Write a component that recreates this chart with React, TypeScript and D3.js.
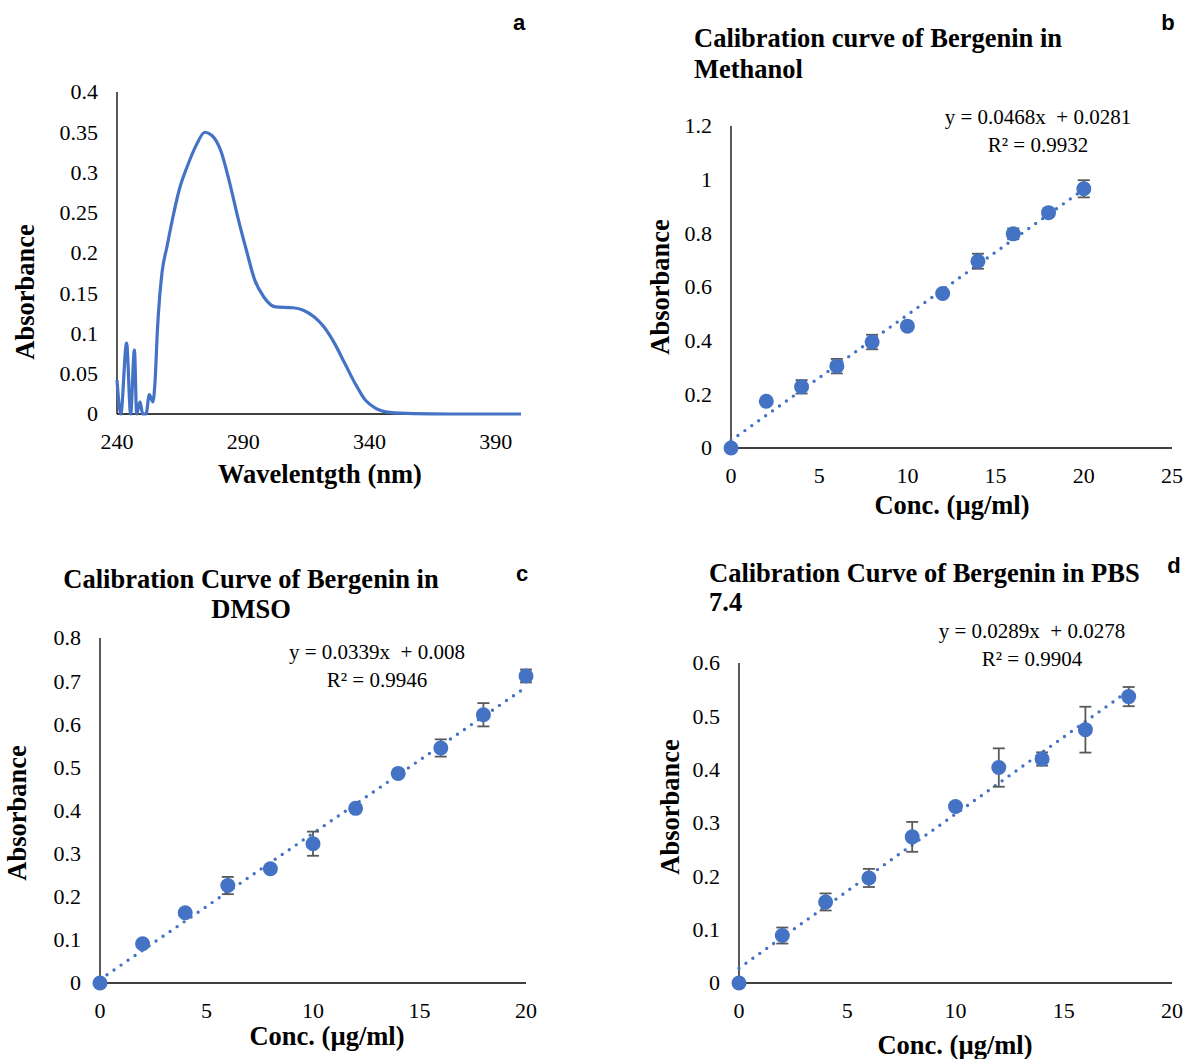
import React from 'react';
import * as d3 from 'd3';

// ---- panel a: UV spectrum ----
const waveNm = [240, 241.5, 243.8, 245.4, 246.9, 247.8, 249.1, 250.2, 251.5, 252.8, 254.2, 255.1, 256.0, 256.4, 257.8, 259.8, 261.9, 264.6, 268, 271.4, 274.8, 277.6, 281, 284.4, 287.8, 291.2, 294.6, 298, 302.8, 309.7, 313.8, 317.9, 322, 326.1, 330.2, 334.3, 338.4, 342.5, 348, 357.5, 371, 385, 400];
const waveAbs = [0.042, 0, 0.088, 0, 0.0795, 0, 0.015, 0, 0, 0.024, 0.015, 0.042, 0.104, 0.125, 0.175, 0.208, 0.241, 0.278, 0.309, 0.334, 0.35, 0.346, 0.328, 0.29, 0.245, 0.204, 0.166, 0.146, 0.133, 0.132, 0.129, 0.121, 0.108, 0.088, 0.063, 0.038, 0.017, 0.007, 0.002, 0.0005, 0, 0, 0];
const waveTicks = [240, 290, 340, 390];
const specAbsTicks = [0, 0.05, 0.1, 0.15, 0.2, 0.25, 0.3, 0.35, 0.4];

// ---- panel b: methanol ----
const concB = [0, 2, 4, 6, 8, 10, 12, 14, 16, 18, 20];
const absB = [0, 0.174, 0.228, 0.305, 0.395, 0.454, 0.576, 0.696, 0.798, 0.877, 0.966];
const errB = [0, 0.01, 0.025, 0.027, 0.027, 0.01, 0.01, 0.028, 0.02, 0.012, 0.032];
const xTicksB = [0, 5, 10, 15, 20, 25];
const yTicksB = [0, 0.2, 0.4, 0.6, 0.8, 1, 1.2];

// ---- panel c: DMSO ----
const concC = [0, 2, 4, 6, 8, 10, 12, 14, 16, 18, 20];
const absC = [0, 0.091, 0.163, 0.226, 0.265, 0.323, 0.405, 0.486, 0.545, 0.622, 0.712];
const errC = [0, 0.005, 0.005, 0.02, 0.005, 0.028, 0.006, 0.008, 0.02, 0.027, 0.015];
const xTicksC = [0, 5, 10, 15, 20];
const yTicksC = [0, 0.1, 0.2, 0.3, 0.4, 0.5, 0.6, 0.7, 0.8];

// ---- panel d: PBS 7.4 ----
const concD = [0, 2, 4, 6, 8, 10, 12, 14, 16, 18];
const absD = [0, 0.089, 0.152, 0.197, 0.274, 0.331, 0.404, 0.42, 0.475, 0.537];
const errD = [0, 0.015, 0.016, 0.017, 0.028, 0.006, 0.036, 0.0125, 0.043, 0.018];
const xTicksD = [0, 5, 10, 15, 20];
const yTicksD = [0, 0.1, 0.2, 0.3, 0.4, 0.5, 0.6];

const BLUE = '#4472C4';
const SERIF = '"Liberation Serif", "Times New Roman", serif';
const SANS = '"Liberation Sans", Arial, sans-serif';
const TICK_SIZE = 22;
const TITLE_SIZE = 26.5;

type Frame = { left: number; right: number; top: number; bottom: number };

function Axes({ frame, x, y, xTicks, yTicks, xTitle, xTitleX, xTitleY, yTitleX, yTitleY }: any) {
  return (
    <g fontFamily={SERIF}>
      <line x1={frame.left} x2={frame.left} y1={frame.top} y2={frame.bottom} stroke="#000" strokeWidth={1.3} />
      <line x1={frame.left} x2={frame.right} y1={frame.bottom} y2={frame.bottom} stroke="#000" strokeWidth={1.3} />
      {yTicks.map((t: number) => (
        <text key={'y' + t} x={frame.left - 19} y={y(t)} dy="0.34em" textAnchor="end" fontSize={TICK_SIZE}>{String(t)}</text>
      ))}
      {xTicks.map((t: number) => (
        <text key={'x' + t} x={x(t)} y={frame.bottom + 35} textAnchor="middle" fontSize={TICK_SIZE}>{String(t)}</text>
      ))}
      <text x={xTitleX} y={xTitleY} textAnchor="middle" fontSize={TITLE_SIZE} fontWeight="bold">{xTitle}</text>
      <text transform={`translate(${yTitleX},${yTitleY}) rotate(-90)`} textAnchor="middle" dy="0.35em" fontSize={TITLE_SIZE} fontWeight="bold">Absorbance</text>
    </g>
  );
}

function Calibration({ frame, conc, abs, err, xTicks, yTicks, slope, intercept, eq, r2, eqX, eqY, xTitleX, xTitleY, yTitleX, yTitleY }: any) {
  const x = d3.scaleLinear().domain([xTicks[0], xTicks[xTicks.length - 1]]).range([frame.left, frame.right]);
  const y = d3.scaleLinear().domain([yTicks[0], yTicks[yTicks.length - 1]]).range([frame.bottom, frame.top]);
  const xEnd = conc[conc.length - 1];
  const trend = d3.line<number>().x(d => x(d)).y(d => y(slope * d + intercept))([0, xEnd]) as string;
  return (
    <g>
      <Axes frame={frame} x={x} y={y} xTicks={xTicks} yTicks={yTicks} xTitle="Conc. (µg/ml)" xTitleX={xTitleX} xTitleY={xTitleY} yTitleX={yTitleX} yTitleY={yTitleY} />
      <path d={trend} fill="none" stroke={BLUE} strokeWidth={3.4} strokeDasharray="0 8.5" strokeLinecap="round" />
      {/* error bars below markers */}
      {conc.map((c: number, i: number) => err[i] > 0 && (
        <g key={'e' + c} stroke="#595959" strokeWidth={1.8}>
          <line x1={x(c)} x2={x(c)} y1={y(abs[i] - err[i])} y2={y(abs[i] + err[i])} />
          <line x1={x(c) - 6} x2={x(c) + 6} y1={y(abs[i] + err[i])} y2={y(abs[i] + err[i])} />
          <line x1={x(c) - 6} x2={x(c) + 6} y1={y(abs[i] - err[i])} y2={y(abs[i] - err[i])} />
        </g>
      ))}
      {conc.map((c: number, i: number) => (
        <circle key={'p' + c} cx={x(c)} cy={y(abs[i])} r={7.5} fill={BLUE} />
      ))}
      <g fontFamily={SERIF} fontSize={21} textAnchor="middle">
        <text x={eqX} y={eqY} style={{ whiteSpace: 'pre' }}>{eq}</text>
        <text x={eqX} y={eqY + 28}>{r2}</text>
      </g>
    </g>
  );
}

function Spectrum() {
  const frame: Frame = { left: 117, right: 521, top: 92, bottom: 414 };
  const x = d3.scaleLinear().domain([240, 400]).range([frame.left, frame.right]);
  const y = d3.scaleLinear().domain([0, 0.4]).range([frame.bottom, frame.top]);
  const path = d3.line<number>()
    .x((_, i) => x(waveNm[i]))
    .y(d => y(d))
    .curve(d3.curveMonotoneX)(waveAbs) as string;
  return (
    <g>
      <Axes frame={frame} x={x} y={y} xTicks={waveTicks} yTicks={specAbsTicks} xTitle="Wavelentgth (nm)" xTitleX={320} xTitleY={483} yTitleX={25} yTitleY={292} />
      <path d={path} fill="none" stroke={BLUE} strokeWidth={3.2} strokeLinejoin="round" />
    </g>
  );
}

export default function App() {
  return (
    <svg width={1187} height={1059} style={{ position: 'absolute', left: 0, top: 0, background: '#fff' }}>
      <rect width={1187} height={1059} fill="#fff" />
      <Spectrum />
      <Calibration
        frame={{ left: 731, right: 1172, top: 126, bottom: 448 }}
        conc={concB} abs={absB} err={errB} xTicks={xTicksB} yTicks={yTicksB}
        slope={0.0468} intercept={0.0281}
        eq="y = 0.0468x  + 0.0281" r2="R² = 0.9932" eqX={1038} eqY={124}
        xTitleX={952} xTitleY={514} yTitleX={660} yTitleY={287}
      />
      <Calibration
        frame={{ left: 100, right: 526, top: 638, bottom: 983 }}
        conc={concC} abs={absC} err={errC} xTicks={xTicksC} yTicks={yTicksC}
        slope={0.0339} intercept={0.008}
        eq="y = 0.0339x  + 0.008" r2="R² = 0.9946" eqX={377} eqY={659}
        xTitleX={327} xTitleY={1045} yTitleX={17} yTitleY={813}
      />
      <Calibration
        frame={{ left: 739, right: 1172, top: 663, bottom: 983 }}
        conc={concD} abs={absD} err={errD} xTicks={xTicksD} yTicks={yTicksD}
        slope={0.0289} intercept={0.0278}
        eq="y = 0.0289x  + 0.0278" r2="R² = 0.9904" eqX={1032} eqY={638}
        xTitleX={955} xTitleY={1054} yTitleX={670} yTitleY={807}
      />
      <g fontFamily={SERIF} fontSize={TITLE_SIZE} fontWeight="bold">
        <text x={694} y={47}>Calibration curve of Bergenin in</text>
        <text x={694} y={78}>Methanol</text>
        <text x={251} y={588} textAnchor="middle">Calibration Curve of Bergenin in</text>
        <text x={251} y={618} textAnchor="middle">DMSO</text>
        <text x={709} y={582}>Calibration Curve of Bergenin in PBS</text>
        <text x={709} y={611}>7.4</text>
      </g>
      <g fontFamily={SANS} fontSize={22} fontWeight="bold" textAnchor="middle">
        <text x={519} y={30}>a</text>
        <text x={1168} y={30}>b</text>
        <text x={522} y={581}>c</text>
        <text x={1174} y={573}>d</text>
      </g>
    </svg>
  );
}
